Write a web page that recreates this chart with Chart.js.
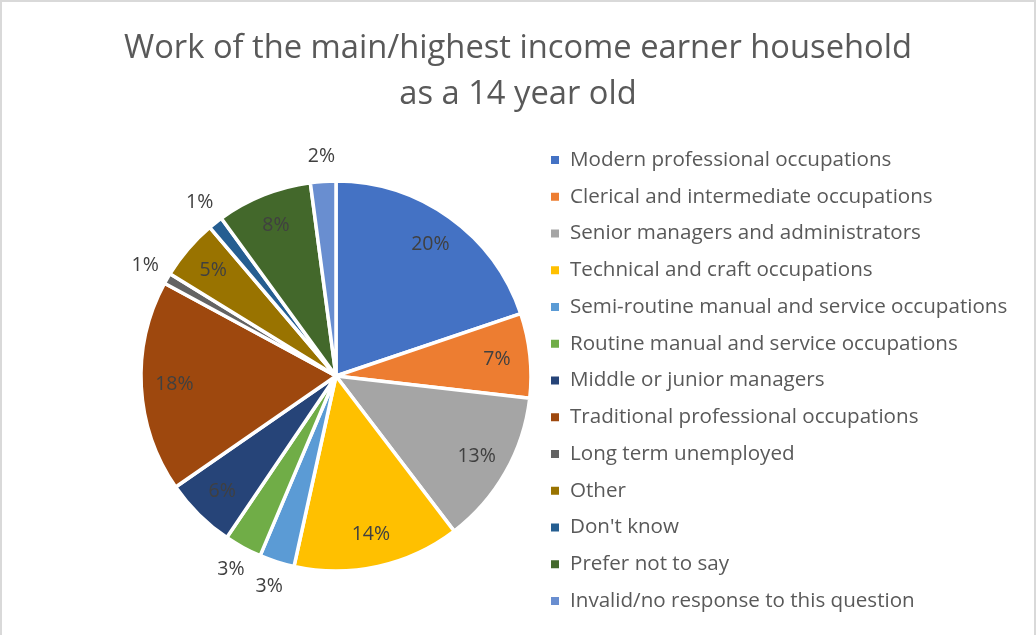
<!DOCTYPE html>
<html>
<head>
<meta charset="utf-8">
<script src="https://cdn.jsdelivr.net/npm/chart.js@4"></script>
<style>
  html, body { margin: 0; padding: 0; background: #fff; }
  #wrap { position: absolute; left: 0; top: 0; width: 1036px; height: 635px; box-sizing: border-box;
          border: 2px solid #d9d9d9; border-bottom: none; }
</style>
</head>
<body>
<div id="wrap"><canvas id="chart"></canvas></div>
<script>
const titleLines = ['Work of the main/highest income earner household', 'as a 14 year old'];

const categories = [
    'Modern professional occupations',
    'Clerical and intermediate occupations',
    'Senior managers and administrators',
    'Technical and craft occupations',
    'Semi-routine manual and service occupations',
    'Routine manual and service occupations',
    'Middle or junior managers',
    'Traditional professional occupations',
    'Long term unemployed',
    'Other',
    "Don't know",
    'Prefer not to say',
    'Invalid/no response to this question'
];

const shares = [19.8, 7.0, 12.8, 13.8, 2.9, 3.1, 5.9, 17.5, 0.9, 5.0, 1.2, 7.9, 2.1];

const colors = ['#4472C4', '#ED7D31', '#A5A5A5', '#FFC000', '#5B9BD5', '#70AD47',
                '#264478', '#9E480E', '#636363', '#997300', '#255E91', '#43682B', '#698ED0'];

const FONT = '"Open Sans", Lato, sans-serif';

// title, legend and percentage labels drawn by hand, Excel style
const excelDecor = {
    id: 'excelDecor',
    afterDatasetsDraw(chart) {
        const ctx = chart.ctx;
        const meta = chart.getDatasetMeta(0);
        const total = shares.reduce((a, b) => a + b, 0);
        ctx.save();
        ctx.textAlign = 'center';
        ctx.textBaseline = 'middle';
        ctx.font = '19.5px ' + FONT;
        ctx.fillStyle = '#404040';
        meta.data.forEach((arc, i) => {
            const p = arc.getProps(['x', 'y', 'startAngle', 'endAngle', 'outerRadius'], true);
            const mid = (p.startAngle + p.endAngle) / 2;
            const f = shares[i] < 4 ? 1.13 : 0.83;
            const pct = Math.round(shares[i] / total * 100) + '%';
            ctx.fillText(pct, p.x + Math.cos(mid) * p.outerRadius * f, p.y + Math.sin(mid) * p.outerRadius * f);
        });

        // title
        ctx.fillStyle = '#595959';
        ctx.font = '32.7px ' + FONT;
        ctx.fillText(titleLines[0], 516, 47);
        ctx.fillText(titleLines[1], 516, 93);

        // legend
        ctx.textAlign = 'left';
        ctx.font = '20.6px ' + FONT;
        categories.forEach((c, i) => {
            const y = 158 + i * 36.75;
            ctx.fillStyle = colors[i];
            ctx.fillRect(549, y - 4, 8, 8);
            ctx.fillStyle = '#595959';
            ctx.fillText(c, 568, y);
        });
        ctx.restore();
    }
};

new Chart(document.getElementById('chart'), {
    type: 'pie',
    data: {
        labels: categories,
        datasets: [{
            data: shares,
            backgroundColor: colors,
            borderColor: '#ffffff',
            borderWidth: 3.5,
            radius: 195
        }]
    },
    options: {
        responsive: true,
        maintainAspectRatio: false,
        animation: false,
        layout: { padding: { left: 0, right: 364, top: 165, bottom: 50 } },
        plugins: {
            legend: { display: false },
            tooltip: { enabled: false }
        }
    },
    plugins: [excelDecor]
});
</script>
</body>
</html>
